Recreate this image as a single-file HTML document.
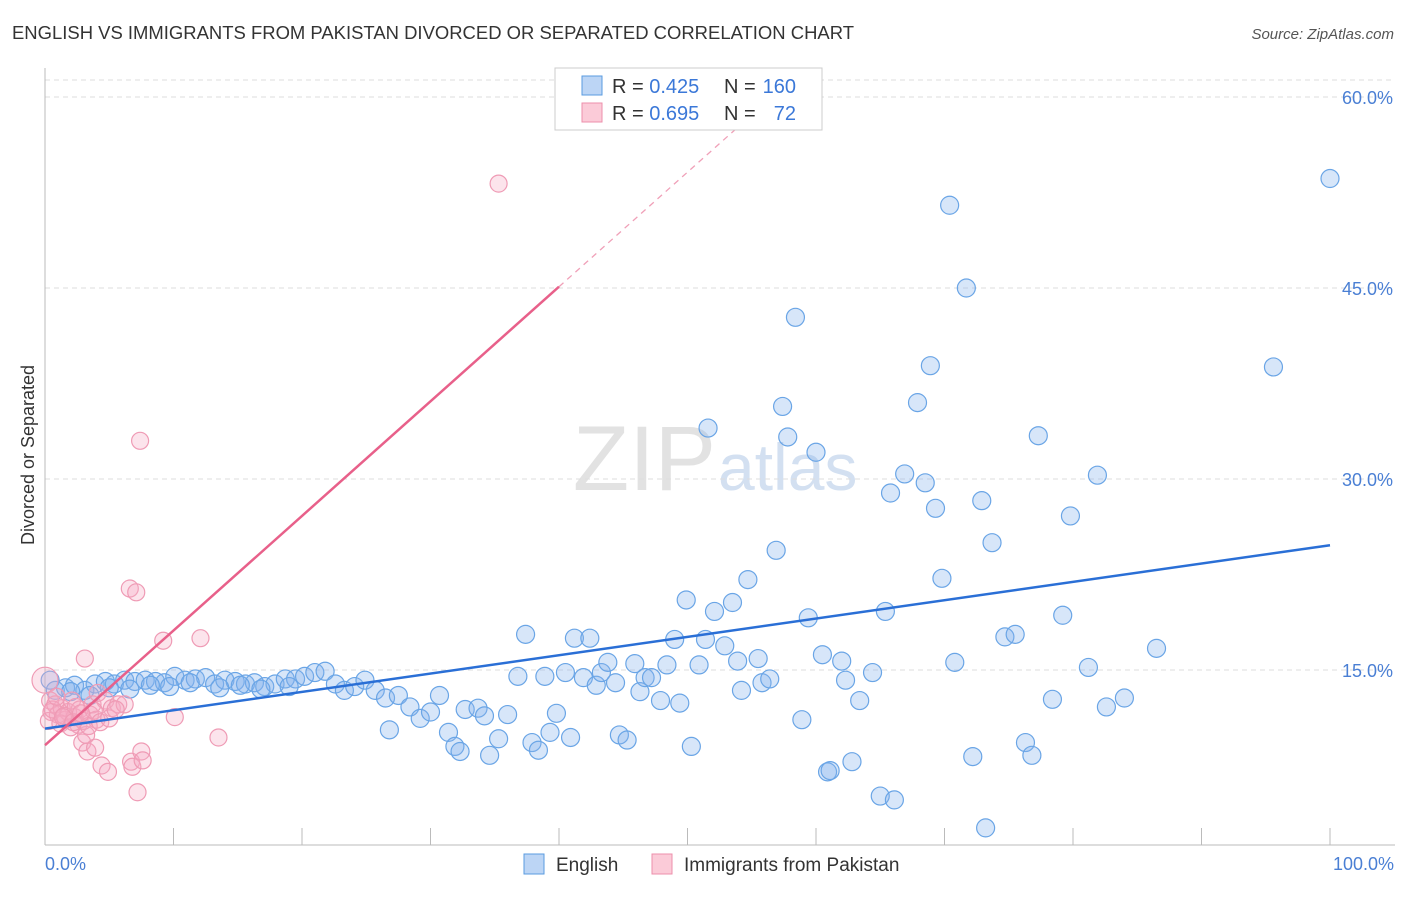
<!DOCTYPE html>
<html><head><meta charset="utf-8"><style>
body{margin:0;background:#fff;font-family:"Liberation Sans",sans-serif;}
svg text{font-family:"Liberation Sans",sans-serif;}
</style></head><body>
<svg id="chart" width="1406" height="892">
<text x="12" y="39" font-size="18" fill="#333" textLength="842" lengthAdjust="spacingAndGlyphs">ENGLISH VS IMMIGRANTS FROM PAKISTAN DIVORCED OR SEPARATED CORRELATION CHART</text>
<text x="1394" y="39" font-size="15" fill="#555" font-style="italic" text-anchor="end">Source: ZipAtlas.com</text>
<text x="716" y="490" font-size="92" fill="#e2e2e2" text-anchor="end" font-family="Liberation Serif">ZIP</text>
<text x="718" y="490" font-size="66" fill="#d3e0f1">atlas</text>
<text transform="translate(34,455) rotate(-90)" font-size="18" fill="#333" text-anchor="middle">Divorced or Separated</text>
<g id="grid"></g><g id="pts"></g><g id="lines"></g>
<text x="45" y="870" font-size="18" fill="#4a7fd4">0.0%</text>
<text x="1394" y="870" font-size="18" fill="#4a7fd4" text-anchor="end">100.0%</text>
<g>
<rect x="555" y="68" width="267" height="62" fill="#fff" stroke="#ccc"/>
<rect x="582" y="76" width="20" height="19" fill="#bcd5f5" stroke="#5a9be0"/>
<rect x="582" y="103" width="20" height="19" fill="#fbcbd8" stroke="#ec8fab"/>
<text x="612" y="93" font-size="20" fill="#333">R = <tspan fill="#3b78d8">0.425</tspan></text>
<text x="724" y="93" font-size="20" fill="#333">N =</text>
<text x="796" y="93" font-size="20" fill="#3b78d8" text-anchor="end">160</text>
<text x="612" y="120" font-size="20" fill="#333">R = <tspan fill="#3b78d8">0.695</tspan></text>
<text x="724" y="120" font-size="20" fill="#333">N =</text>
<text x="796" y="120" font-size="20" fill="#3b78d8" text-anchor="end">72</text>
</g>
<g>
<rect x="524" y="854" width="20" height="20" fill="#bcd5f5" stroke="#5a9be0"/>
<text x="556" y="871" font-size="19" fill="#333">English</text>
<rect x="652" y="854" width="20" height="20" fill="#fbcbd8" stroke="#ec8fab"/>
<text x="684" y="871" font-size="19" fill="#333">Immigrants from Pakistan</text>
</g>
</svg>
<script>
const yTicks=[15,30,45,60];
const xTickVals=[0,10,20,30,40,50,60,70,80,90,100];
const englishX=[0.4,0.8,1.6,2.3,3.1,3.9,4.7,5.4,6.2,7.0,7.8,8.6,9.3,10.1,10.9,11.7,12.5,13.2,14.0,14.8,15.6,16.3,17.1,17.9,18.7,19.5,20.2,21.0,21.8,22.6,23.3,24.1,24.9,25.7,26.5,27.5,26.8,28.4,29.2,30.0,30.7,31.4,31.9,32.3,32.7,33.7,34.2,34.6,35.3,36.0,36.8,37.4,37.9,38.4,38.9,39.3,39.8,40.5,40.9,41.2,41.9,42.4,42.9,43.3,43.8,44.4,44.7,45.3,45.9,46.3,46.7,47.2,47.9,48.4,49.0,49.4,49.9,50.3,50.9,51.4,51.6,52.1,52.9,53.5,53.9,54.2,54.7,55.5,55.8,56.4,56.9,57.4,57.8,58.4,58.9,59.4,60.0,60.5,60.9,62.0,62.3,62.8,63.4,64.4,65.0,65.4,65.8,66.1,66.9,67.9,68.5,68.9,69.3,69.8,70.4,70.8,71.7,72.2,72.9,73.2,73.7,74.7,75.5,76.3,76.8,77.3,78.4,79.2,79.8,81.2,81.9,82.6,84.0,86.5,95.6,100,61.1,2.0,3.5,5.0,6.6,8.2,9.7,11.3,13.6,15.2,16.8,19.0];
const englishY=[14.2,13.4,13.6,13.8,13.4,13.9,14.1,13.9,14.2,14.1,14.2,14.1,14.0,14.5,14.2,14.3,14.4,13.9,14.2,14.1,13.9,14.0,13.7,13.9,14.3,14.3,14.5,14.8,14.9,13.9,13.4,13.7,14.2,13.4,12.8,13.0,10.3,12.1,11.2,11.7,13.0,10.1,9.0,8.6,11.9,12.0,11.4,8.3,9.6,11.5,14.5,17.8,9.3,8.7,14.5,10.1,11.6,14.8,9.7,17.5,14.4,17.5,13.8,14.8,15.6,14.0,9.9,9.5,15.5,13.3,14.4,14.4,12.6,15.4,17.4,12.4,20.5,9.0,15.4,17.4,34.0,19.6,16.9,20.3,15.7,13.4,22.1,15.9,14.0,14.3,24.4,35.7,33.3,42.7,11.1,19.1,32.1,16.2,7.0,15.7,14.2,7.8,12.6,14.8,5.1,19.6,28.9,4.8,30.4,36.0,29.7,38.9,27.7,22.2,51.5,15.6,45.0,8.2,28.3,2.6,25.0,17.6,17.8,9.3,8.3,33.4,12.7,19.3,27.1,15.2,30.3,12.1,12.8,16.7,38.8,53.6,7.1,13.3,13.0,13.6,13.5,13.8,13.7,14.0,13.6,13.8,13.5,13.7];
const pakX=[0,0.4,0.5,0.8,1.0,1.3,1.6,1.8,2.1,2.3,2.6,2.7,2.9,3.1,3.2,3.3,3.5,3.7,3.9,4.0,4.1,4.4,4.7,4.9,5.2,5.7,6.2,6.6,6.7,6.8,7.1,7.2,7.4,7.5,7.6,9.2,10.1,12.1,13.5,35.3,0.3,0.6,1.2,1.5,2.0,2.4,3.0,3.4,3.8,4.3,0.9,1.4,2.2,2.8,5.0,5.5];
const pakY=[14.2,12.6,11.7,12.3,11.5,12.0,11.1,11.7,12.6,11.3,10.7,11.9,9.3,15.9,9.9,8.6,11.5,12.3,8.9,11.1,13.2,7.5,12.6,7.0,12.0,12.3,12.3,21.4,7.8,7.4,21.1,5.4,33.0,8.6,7.9,17.3,11.3,17.5,9.7,53.2,11.0,11.9,10.8,11.4,10.5,12.1,11.0,10.6,11.8,10.9,12.9,11.3,10.9,11.6,11.2,11.9];
const englishFit=[10.4,24.8];
const pakFit=[9.1,45.1];
const X=v=>45+v*12.85, Y=v=>861-v*12.733;
const NS='http://www.w3.org/2000/svg';
function mk(tag,attrs,parent){const e=document.createElementNS(NS,tag);for(const k in attrs)e.setAttribute(k,attrs[k]);parent.appendChild(e);return e;}
const grid=document.getElementById('grid');
yTicks.forEach(t=>{
  const l=mk('line',{x1:45,x2:1395,y1:Y(t),y2:Y(t),stroke:'#ddd','stroke-dasharray':'5,4'},grid);
  
  
  const tx=mk('text',{x:1393,y:Y(t)+7,'font-size':18,fill:'#4a7fd4','text-anchor':'end'},grid);
  tx.textContent=t.toFixed(1)+'%';
  
  
});
const gl=mk('line',{x1:45,x2:1395,y1:Y(60)-17,y2:Y(60)-17,stroke:'#ddd','stroke-dasharray':'5,4'},grid);


const ya=mk('line',{x1:45,x2:45,y1:68,y2:845,stroke:'#bbb'},grid);


const xa=mk('line',{x1:45,x2:1395,y1:845,y2:845,stroke:'#bbb'},grid);


xTickVals.forEach(t=>{
  const l=mk('line',{x1:X(t),x2:X(t),y1:828,y2:845,stroke:'#bbb'},grid);
  
  
});
const pts=document.getElementById('pts');
englishX.forEach((v,i)=>{
  const c=mk('circle',{cx:X(v),cy:Y(englishY[i]),r:9,fill:'rgba(130,178,235,0.32)',stroke:'#6aa5e6','stroke-width':1.2},pts);
  
  
});
pakX.forEach((v,i)=>{
  const c=mk('circle',{cx:X(v),cy:Y(pakY[i]),r:v===0?13:8.5,fill:'rgba(247,170,195,0.32)',stroke:'#ef9bb5','stroke-width':1.2},pts);
  
  
});
const lines=document.getElementById('lines');
const bl=mk('line',{x1:X(0),y1:Y(englishFit[0]),x2:X(100),y2:Y(englishFit[1]),stroke:'#2a6fd6','stroke-width':2.5},lines);


const slope=(pakFit[1]-pakFit[0])/40;
const pl=mk('line',{x1:X(0),y1:Y(pakFit[0]),x2:X(40),y2:Y(pakFit[1]),stroke:'#e8608a','stroke-width':2.5},lines);


const xe=(60-pakFit[0])/slope;
const pd=mk('line',{x1:X(40),y1:Y(pakFit[1]),x2:X(xe),y2:Y(60),stroke:'#f0a0b8','stroke-width':1.3,'stroke-dasharray':'6,5'},lines);


</script>
</body></html>
